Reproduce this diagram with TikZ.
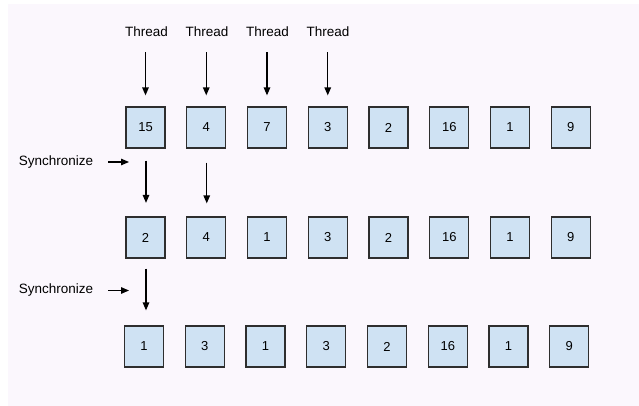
\documentclass[tikz,border=0pt]{standalone}
\usepackage{fontspec}
\setmainfont{Liberation Sans}
\usetikzlibrary{arrows.meta}
\definecolor{bgc}{HTML}{FBF7FD}
\definecolor{boxfill}{HTML}{CFE2F3}
\definecolor{boxline}{HTML}{2E2E2E}
\tikzset{
  cell/.style={draw=boxline, fill=boxfill, line width=1.2pt, minimum width=39pt, minimum height=41pt, inner sep=0pt, font=\fontsize{13pt}{15pt}\selectfont},
  lbl/.style={inner sep=0pt, font=\fontsize{13.5pt}{16pt}\selectfont},
  arr/.style={line width=1.3pt, -{Triangle[length=8pt,width=6.5pt]}},
}
\begin{document}
\begin{tikzpicture}[x=1pt,y=-1pt]
\useasboundingbox (0,0) rectangle (639,406);
\fill[bgc] (8,4) rectangle (639,406);
% rows
\foreach \v [count=\i] in {15,4,7,3,2,16,1,9}
  \node[cell] (a\i) at ({145.5+60.75*(\i-1)},127.5) {\v};
\foreach \v [count=\i] in {2,4,1,3,2,16,1,9}
  \node[cell] (b\i) at ({145.5+60.75*(\i-1)},237.5) {\v};
\foreach \v [count=\i] in {1,3,1,3,2,16,1,9}
  \node[cell] (c\i) at ({144+60.75*(\i-1)},346.5) {\v};
% thread labels
\foreach \i in {1,...,4}
  \node[lbl] (t\i) at ({146.5+60.5*(\i-1)},31.7) {Thread};
\foreach \i in {1,...,4}
  \draw[arr, shorten <=15.5pt, shorten >=11pt] (t\i.south -| a\i.north) -- (a\i.north);
% synchronize 1
\node[lbl] (s1) at (56,162) {Synchronize};
\coordinate (s1e) at (129,162);
\draw[arr, shorten <=15pt] (s1.east) -- (s1e);
\draw[arr, shorten <=12pt, shorten >=13.5pt] ([xshift=0.5pt]a1.south) -- ([xshift=0.5pt]b1.north);
\draw[arr, shorten <=14pt, shorten >=13pt] ([xshift=0.5pt]a2.south) -- ([xshift=0.5pt]b2.north);
% synchronize 2
\node[lbl] (s2) at (56,290.5) {Synchronize};
\coordinate (s2e) at (129,290.5);
\draw[arr, shorten <=15pt] (s2.east) -- (s2e);
\draw[arr, shorten <=10pt, shorten >=15pt] ([xshift=0.5pt]b1.south) -- ([xshift=0.5pt]b1.south |- c1.north);
\end{tikzpicture}
\end{document}
